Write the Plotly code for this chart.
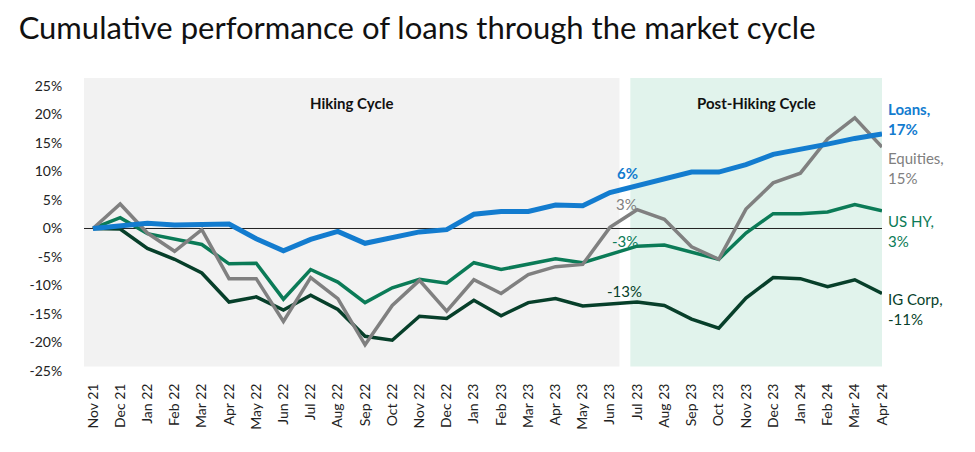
import plotly.graph_objects as go

months = ["Nov 21", "Dec 21", "Jan 22", "Feb 22", "Mar 22", "Apr 22", "May 22", "Jun 22",
          "Jul 22", "Aug 22", "Sep 22", "Oct 22", "Nov 22", "Dec 22", "Jan 23", "Feb 23",
          "Mar 23", "Apr 23", "May 23", "Jun 23", "Jul 23", "Aug 23", "Sep 23", "Oct 23",
          "Nov 23", "Dec 23", "Jan 24", "Feb 24", "Mar 24", "Apr 24"]

loans = [0, 0.5, 0.9, 0.6, 0.6, 0.8, -1.8, -3.9, -1.9, -0.5, -2.6, -1.7, -0.6, -0.2, 2.5,
         3.0, 3.0, 4.1, 4.0, 6.3, 7.5, 8.8, 9.9, 9.9, 11.2, 13.0, 13.8, 14.8, 15.8, 16.6]
equities = [0, 4.3, -0.8, -4.0, -0.2, -8.8, -8.8, -16.3, -8.6, -12.3, -20.4, -13.5, -9.1,
            -14.5, -9.0, -11.4, -8.1, -6.7, -6.3, 0.2, 3.3, 1.6, -3.2, -5.4, 3.4, 8.0, 9.7,
            15.7, 19.4, 14.3]
us_hy = [0, 1.9, -0.9, -1.9, -2.8, -6.2, -6.1, -12.4, -7.2, -9.4, -13.0, -10.4, -8.9, -9.6,
         -6.0, -7.2, -6.2, -5.3, -6.0, -4.5, -3.1, -2.9, -4.1, -5.4, -0.8, 2.6, 2.6, 2.9, 4.2, 3.1]
ig_corp = [0, -0.1, -3.5, -5.4, -7.8, -12.9, -12.0, -14.3, -11.7, -14.2, -18.9, -19.6, -15.4,
           -15.8, -12.6, -15.3, -13.0, -12.3, -13.6, -13.2, -12.9, -13.5, -15.9, -17.5, -12.2,
           -8.6, -8.8, -10.2, -9.0, -11.4]

y_ticks = [25, 20, 15, 10, 5, 0, -5, -10, -15, -20, -25]
y_tick_labels = ["25%", "20%", "15%", "10%", "5%", "0%", "-5%", "-10%", "-15%", "-20%", "-25%"]

BLUE = "#137ccf"
GRAY = "#808080"
GREEN = "#0b7b57"
DARK = "#073f2a"
FONT = "Lato"

x = list(range(len(months)))

fig = go.Figure()
fig.add_trace(go.Scatter(x=x, y=ig_corp, mode="lines", line=dict(color=DARK, width=3.5), name="IG Corp"))
fig.add_trace(go.Scatter(x=x, y=us_hy, mode="lines", line=dict(color=GREEN, width=3.5), name="US HY"))
fig.add_trace(go.Scatter(x=x, y=equities, mode="lines", line=dict(color=GRAY, width=3.5), name="Equities"))
fig.add_trace(go.Scatter(x=x, y=loans, mode="lines", line=dict(color=BLUE, width=5), name="Loans"))

# background regions
fig.add_shape(type="rect", xref="x", yref="y", x0=-0.33, x1=19.35, y0=-24.2, y1=26.4,
              fillcolor="#f2f2f2", line=dict(width=0), layer="below")
fig.add_shape(type="rect", xref="x", yref="y", x0=19.75, x1=29, y0=-24.2, y1=26.4,
              fillcolor="#e1f3ec", line=dict(width=0), layer="below")
fig.add_shape(type="line", xref="x", yref="y", x0=-0.33, x1=29.75, y0=0, y1=0,
              line=dict(color="#222222", width=1), layer="below")

ann = []
ann.append(dict(x=9.5, y=22, xref="x", yref="y", text="<b>Hiking Cycle</b>", showarrow=False,
                font=dict(size=15, color="#111111", family=FONT)))
ann.append(dict(x=24.4, y=22, xref="x", yref="y", text="<b>Post-Hiking Cycle</b>", showarrow=False,
                font=dict(size=15, color="#111111", family=FONT)))

# mid labels
ann.append(dict(x=19.17, y=9.8, xref="x", yref="y", text="<b>6%</b>", showarrow=False, xanchor="left",
                font=dict(size=15, color=BLUE, family=FONT)))
ann.append(dict(x=19.15, y=4.3, xref="x", yref="y", text="3%", showarrow=False, xanchor="left",
                font=dict(size=15, color=GRAY, family=FONT)))
ann.append(dict(x=19.0, y=-2.2, xref="x", yref="y", text="-3%", showarrow=False, xanchor="left",
                font=dict(size=15, color=GREEN, family=FONT)))
ann.append(dict(x=18.83, y=-11.0, xref="x", yref="y", text="-13%", showarrow=False, xanchor="left",
                font=dict(size=15, color=DARK, family=FONT)))

# end labels
ann.append(dict(x=29, y=19.2, xref="x", yref="y", text="<b>Loans,<br>17%</b>", showarrow=False,
                xanchor="left", xshift=4, align="left", font=dict(size=15, color=BLUE, family=FONT)))
ann.append(dict(x=29, y=10.6, xref="x", yref="y", text="Equities,<br>15%", showarrow=False,
                xanchor="left", xshift=4, align="left", font=dict(size=15, color=GRAY, family=FONT)))
ann.append(dict(x=29, y=-0.5, xref="x", yref="y", text="US HY,<br>3%", showarrow=False,
                xanchor="left", xshift=4, align="left", font=dict(size=15, color=GREEN, family=FONT)))
ann.append(dict(x=29, y=-14.2, xref="x", yref="y", text="IG Corp,<br>-11%", showarrow=False,
                xanchor="left", xshift=4, align="left", font=dict(size=15, color=DARK, family=FONT)))

fig.update_layout(
    width=967, height=444,
    margin=dict(l=76, r=93, t=70, b=81),
    paper_bgcolor="white", plot_bgcolor="white",
    showlegend=False,
    title=dict(text="Cumulative performance of loans through the market cycle",
               x=0.011, xanchor="left", y=0.955, yanchor="middle",
               font=dict(size=31, color="#111111", family=FONT)),
    font=dict(family=FONT, color="#333333", size=14),
    annotations=ann,
)
fig.update_xaxes(range=[-0.33, 29], tickvals=x, ticktext=months, tickangle=-90,
                 showgrid=False, zeroline=False, showline=False,
                 ticks="outside", ticklen=6, tickcolor="rgba(0,0,0,0)",
                 tickfont=dict(size=14, color="#222222", family=FONT))
fig.update_yaxes(range=[-25, 26.4], tickvals=y_ticks, ticktext=y_tick_labels,
                 showgrid=False, zeroline=False, showline=False,
                 ticks="outside", ticklen=18, tickcolor="rgba(0,0,0,0)",
                 tickfont=dict(size=14, color="#222222", family=FONT))

fig.write_html("out.html")
